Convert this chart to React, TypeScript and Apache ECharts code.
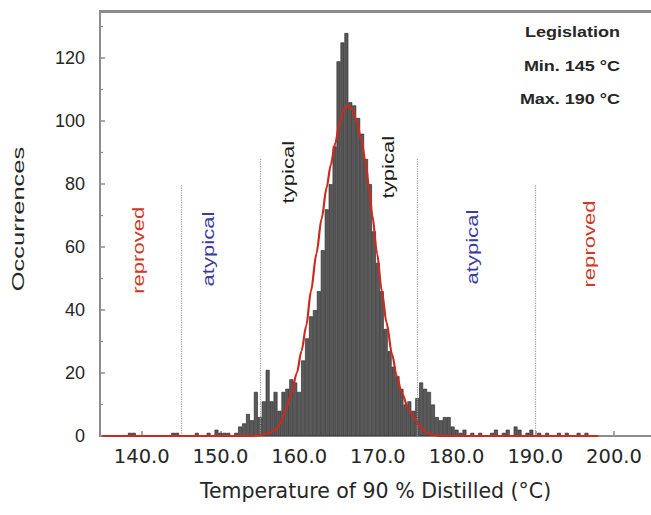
import React, { useEffect, useRef } from "react";
import * as echarts from "echarts";

// Histogram bins (0.5 °C wide) : centre temperature and count
const binCenters = [
  138.5, 139.0, 144.0, 144.5, 147.0, 148.5, 149.5, 150.0, 150.5, 151.0, 152.0, 152.5, 153.0, 153.5,
  154.0, 154.5, 155.0, 155.5, 156.0, 156.5, 157.0, 157.5, 158.0, 158.5, 159.0, 159.5, 160.0, 160.5,
  161.0, 161.5, 162.0, 162.5, 163.0, 163.5, 164.0, 164.5, 165.0, 165.5, 166.0, 166.5, 167.0, 167.5,
  168.0, 168.5, 169.0, 169.5, 170.0, 170.5, 171.0, 171.5, 172.0, 172.5, 173.0, 173.5, 174.0, 174.5,
  175.0, 175.5, 176.0, 176.5, 177.0, 177.5, 178.0, 178.5, 179.0, 179.5, 180.0, 180.5, 181.0, 182.0,
  183.0, 184.5, 185.0, 186.0, 186.5, 187.5, 188.0, 189.0, 189.5, 190.5, 191.5, 193.0, 194.0, 195.5,
  196.5,
];
const binCounts = [
  1, 1, 1, 1, 1, 1, 2, 1, 1, 1, 1, 3, 4, 7,
  5, 14, 6, 11, 21, 11, 14, 8, 14, 15, 18, 17, 14, 24,
  31, 38, 40, 46, 59, 72, 80, 92, 119, 125, 128, 106, 105, 101,
  96, 88, 80, 65, 55, 46, 34, 27, 22, 19, 15, 10, 11, 8,
  12, 17, 15, 14, 10, 6, 5, 6, 6, 3, 2, 1, 2, 1,
  1, 1, 2, 1, 2, 3, 2, 1, 2, 1, 1, 1, 1, 1,
  1,
];

// Fitted normal curve
const fitTemps = [
  135, 150, 154, 155, 156, 157.0, 157.7, 158.3, 159.0, 159.7, 160.3, 160.9, 161.5, 162.2,
  162.85, 163.5, 164.0, 164.6, 165.1, 165.6, 166.1, 166.7, 167.3, 167.9, 168.5, 168.9, 169.3,
  169.9, 170.5, 171.1, 171.8, 172.4, 173.05, 173.9, 174.8, 175.5, 176.1, 177.0, 178.0, 190, 198,
];
const fitCounts = [
  0, 0, 0, 0.3, 0.8, 1.9, 4.5, 8.3, 13.5, 20, 27, 35, 46, 58,
  69, 79, 86, 93, 99, 103.5, 105, 104, 100, 94, 86, 78, 70,
  58, 46, 36, 26, 19, 13.6, 8.5, 5, 2.5, 1.2, 0.4, 0, 0, 0,
];

const xTickValues = [140, 150, 160, 170, 180, 190, 200];
const yTickValues = [0, 20, 40, 60, 80, 100, 120];
const yMinorTickValues = [10, 30, 50, 70, 90, 110, 130];

// Dotted limit lines: temperature and height (occurrences)
const limitTemps = [145, 155, 175, 190];
const limitTops = [80, 88, 88, 80];

// Zone labels (rotated) anchored in data coordinates
const zoneTexts = ["reproved", "atypical", "typical", "typical", "atypical", "reproved"];
const zoneTemps = [139.6, 148.5, 158.6, 171.4, 182.0, 196.9];
const zoneCounts = [59, 59.4, 83.8, 85.4, 60, 61];
const zoneColors = ["#cf3a26", "#3b3b9e", "#1c1c1c", "#1c1c1c", "#3b3b9e", "#cf3a26"];

const legislationLines = ["Legislation", "Min. 145 \u00B0C", "Max. 190 \u00B0C"];

export default function App() {
  const ref = useRef<HTMLDivElement>(null);

  useEffect(() => {
    if (!ref.current) return;
    const chart = echarts.init(ref.current, undefined, { renderer: "svg" });
    const axisColor = "#8c8c8c";
    const XMIN = 134.7;
    const XMAX = 204.7;
    const YMAX = 135;

    chart.setOption({
      animation: false,
      backgroundColor: "#ffffff",
      grid: { left: 100, right: -2, top: 11, bottom: 79, containLabel: false },
      xAxis: [
        {
          type: "value",
          min: XMIN,
          max: XMAX,
          axisLine: { show: true, onZero: false, lineStyle: { color: axisColor, width: 2 } },
          axisTick: {
            show: true,
            inside: true,
            length: 5,
            customValues: xTickValues,
            lineStyle: { color: axisColor, width: 1.5 },
          },
          axisLabel: {
            customValues: xTickValues,
            formatter: (v: number) => v.toFixed(1),
            fontFamily: "DejaVu Sans",
            fontSize: 19.5,
            color: "#262626",
            margin: 10,
          },
          splitLine: { show: false },
          name: "Temperature of 90 % Distilled (\u00B0C)",
          nameLocation: "middle",
          nameGap: 44,
          nameTextStyle: { fontFamily: "DejaVu Sans", fontSize: 20.5, color: "#262626" },
        },
      ],
      yAxis: [
        {
          type: "value",
          min: 0,
          max: YMAX,
          axisLine: { show: true, onZero: false, lineStyle: { color: axisColor, width: 2 } },
          axisTick: {
            show: true,
            inside: true,
            length: 5,
            customValues: yTickValues,
            lineStyle: { color: axisColor, width: 1.5 },
          },
          axisLabel: {
            customValues: yTickValues,
            fontFamily: "Liberation Sans",
            fontSize: 18,
            color: "#262626",
            margin: 15,
          },
          splitLine: { show: false },
        },
        {
          type: "value",
          position: "left",
          min: 0,
          max: YMAX,
          axisLine: { show: false, onZero: false },
          axisTick: {
            show: true,
            inside: true,
            length: 3,
            customValues: yMinorTickValues,
            lineStyle: { color: axisColor, width: 1.2 },
          },
          axisLabel: { show: false },
          splitLine: { show: false },
        },
      ],
      series: [
        {
          type: "bar",
          xAxisIndex: 0,
          yAxisIndex: 0,
          data: binCenters.map((t, i) => [t, binCounts[i]]),
          barWidth: 3.9,
          itemStyle: { color: "#5a5a5a", borderColor: "#222222", borderWidth: 0.6 },
          silent: true,
          markLine: {
            silent: true,
            symbol: "none",
            label: { show: false },
            lineStyle: { color: "#9a9a9a", type: "dotted", width: 1.2 },
            data: limitTemps.map((t, i) => [
              { coord: [t, 0] },
              { coord: [t, limitTops[i]] },
            ]),
          },
        },
        {
          type: "line",
          xAxisIndex: 0,
          yAxisIndex: 0,
          data: fitTemps.map((t, i) => [t, fitCounts[i]]),
          smooth: 0.3,
          smoothMonotone: "x",
          showSymbol: false,
          symbol: "none",
          lineStyle: { color: "#cc2a1e", width: 2.2 },
          z: 5,
          markLine: {
            silent: true,
            symbol: "none",
            label: { show: false },
            lineStyle: { color: axisColor, type: "solid", width: 2 },
            data: [{ yAxis: YMAX - 0.3 }],
          },
        },
      ],
    });

    const frameTop = {
      type: "rect",
      z: 20,
      shape: { x: 99, y: 10, width: 560, height: 2 },
      style: { fill: axisColor },
    };

    const zoneGraphics = zoneTexts.map((txt, i) => {
      const p = chart.convertToPixel({ xAxisIndex: 0, yAxisIndex: 0 }, [zoneTemps[i], zoneCounts[i]]) as number[];
      return {
        type: "text",
        x: p[0],
        y: p[1],
        rotation: Math.PI / 2,
        scaleX: 1.38,
        z: 10,
        style: {
          text: txt,
          fill: zoneColors[i],
          fontFamily: "Liberation Sans",
          fontSize: 16,
          textAlign: "center",
          textVerticalAlign: "middle",
          align: "center",
          verticalAlign: "middle",
        },
      };
    });

    const legY = [32, 66, 99];
    const legGraphics = legislationLines.map((txt, i) => ({
      type: "text",
      x: 620,
      y: legY[i],
      scaleX: 1.2,
      z: 10,
      style: {
        text: txt,
        fill: "#262626",
        fontFamily: "Liberation Sans",
        fontWeight: "bold",
        fontSize: 15,
        textAlign: "right",
        textVerticalAlign: "middle",
        align: "right",
        verticalAlign: "middle",
      },
    }));

    const yTitle = {
      type: "text",
      x: 18,
      y: 219,
      rotation: Math.PI / 2,
      scaleX: 1.5,
      z: 10,
      style: {
        text: "Occurrences",
        fill: "#262626",
        fontFamily: "Liberation Sans",
        fontSize: 17,
        textAlign: "center",
        textVerticalAlign: "middle",
        align: "center",
        verticalAlign: "middle",
      },
    };

    chart.setOption({ graphic: [...zoneGraphics, ...legGraphics, yTitle, frameTop] });

    return () => chart.dispose();
  }, []);

  return (
    <div
      ref={ref}
      style={{ position: "fixed", left: 0, top: 0, width: 651, height: 515, background: "#fff" }}
    />
  );
}
